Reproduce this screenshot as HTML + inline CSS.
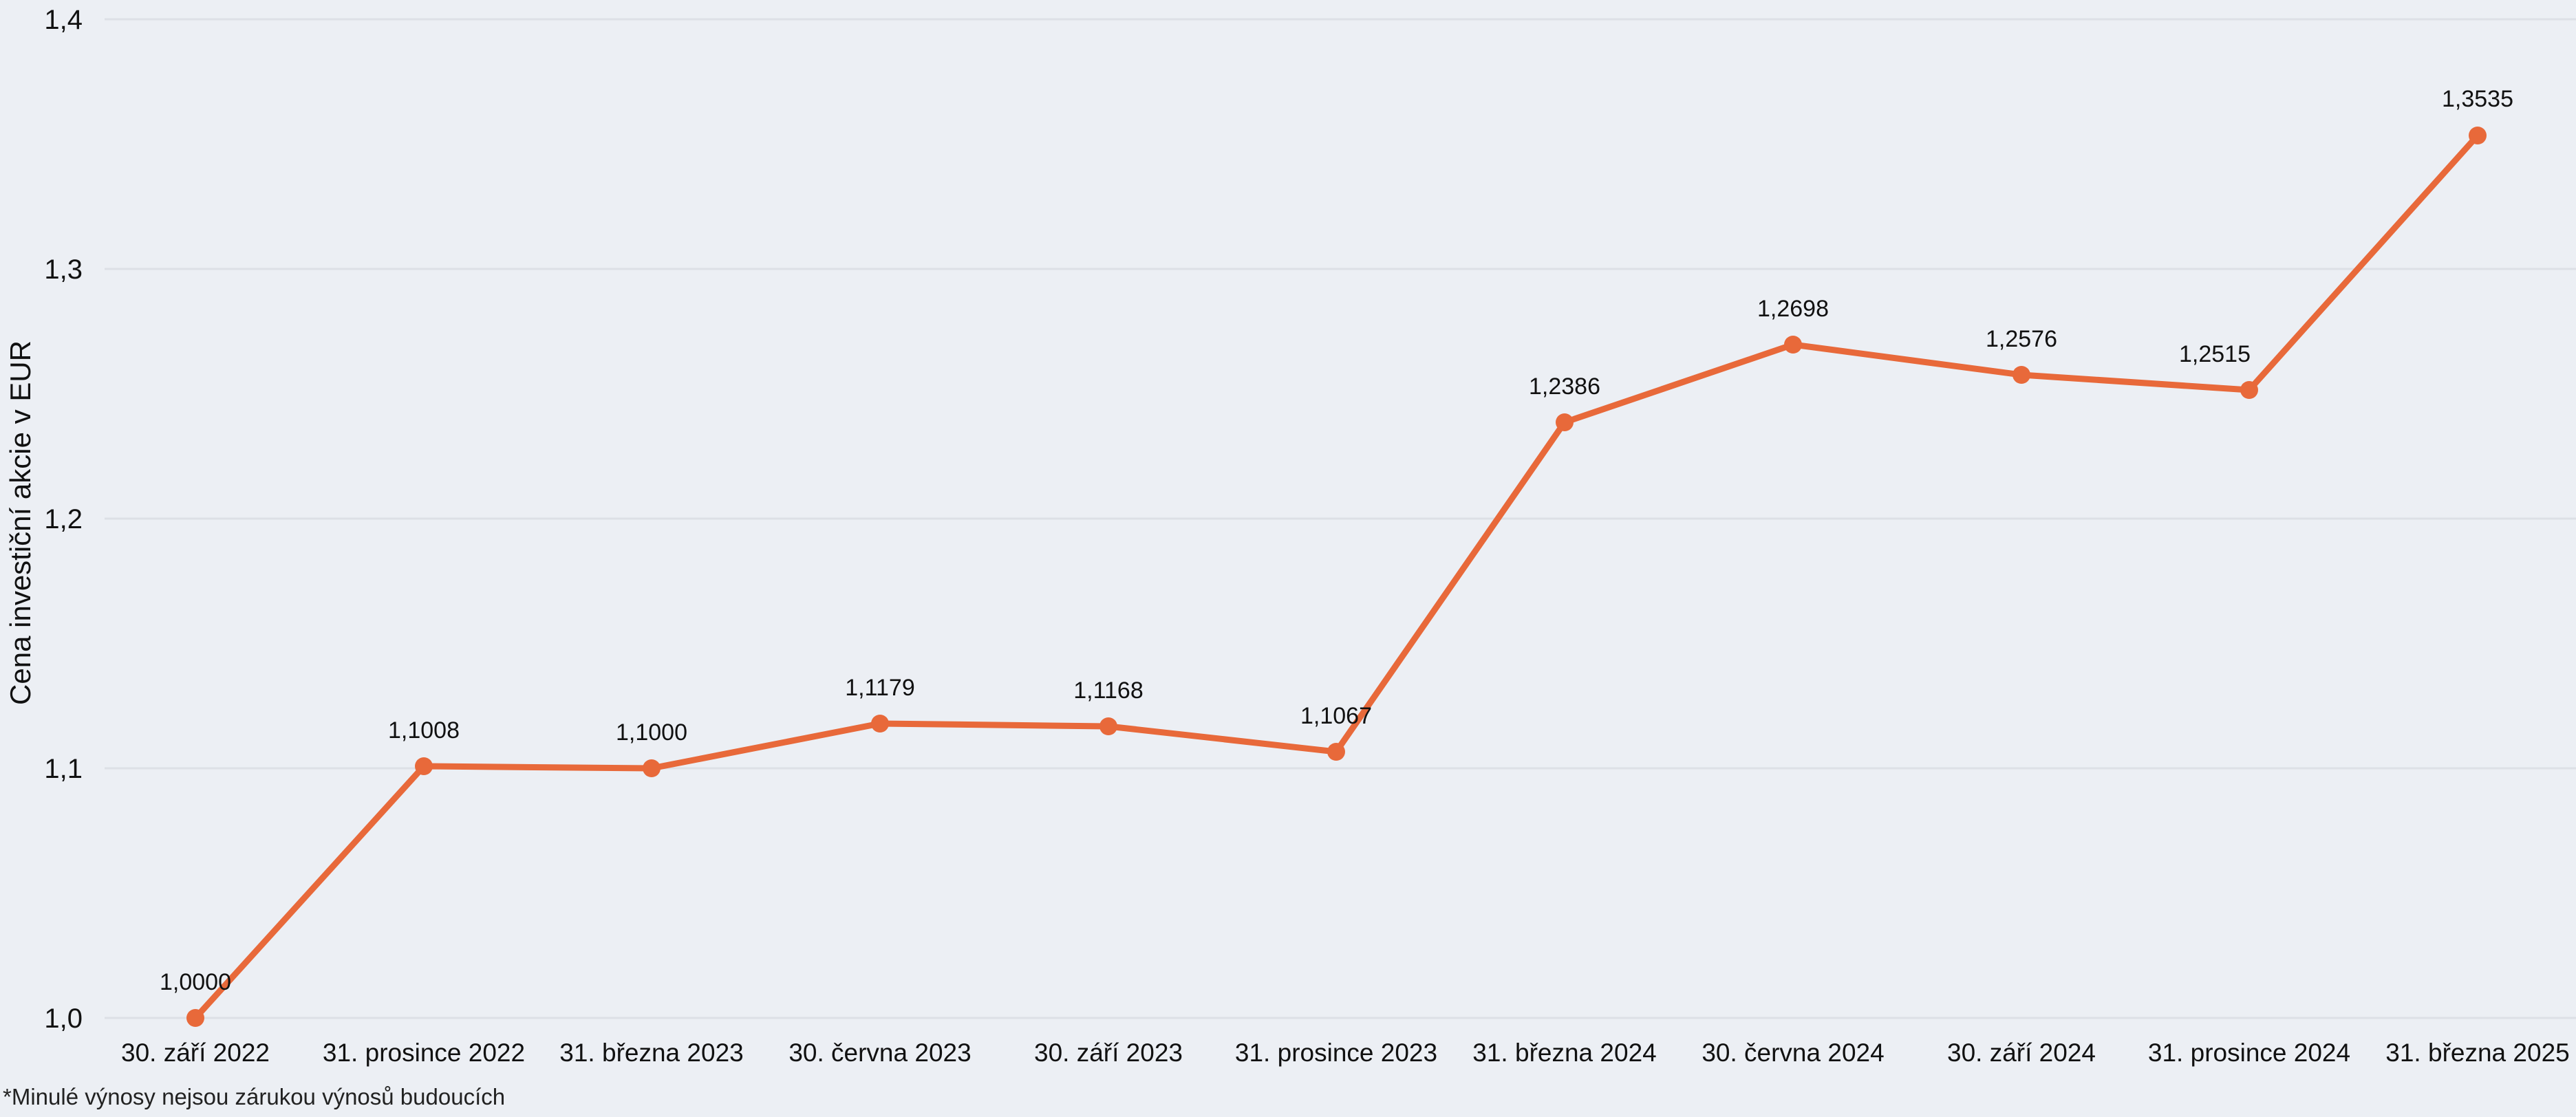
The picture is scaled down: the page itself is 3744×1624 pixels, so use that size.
<!DOCTYPE html>
<html><head><meta charset="utf-8"><style>
html,body{margin:0;padding:0;background:#ECEFF4;}
svg{display:block;font-family:"Liberation Sans",sans-serif;}
</style></head><body>
<svg width="3744" height="1624" viewBox="0 0 3744 1624" xmlns="http://www.w3.org/2000/svg">
<rect width="3744" height="1624" fill="#ECEFF4"/>
<g stroke="#DDE0E6" stroke-width="3">
<line x1="152" y1="28" x2="3744" y2="28"/>
<line x1="152" y1="391" x2="3744" y2="391"/>
<line x1="152" y1="754" x2="3744" y2="754"/>
<line x1="152" y1="1117" x2="3744" y2="1117"/>
<line x1="152" y1="1480" x2="3744" y2="1480"/>
</g>
<g font-size="40" fill="#111" text-anchor="end">
<text x="120" y="42">1,4</text>
<text x="120" y="405">1,3</text>
<text x="120" y="768">1,2</text>
<text x="120" y="1131">1,1</text>
<text x="120" y="1494">1,0</text>
</g>
<text transform="translate(44,760) rotate(-90)" font-size="42" fill="#111" text-anchor="middle">Cena investiční akcie v EUR</text>
<g font-size="37" fill="#111" text-anchor="middle">
<text x="284" y="1543">30. září 2022</text>
<text x="616" y="1543">31. prosince 2022</text>
<text x="947" y="1543">31. března 2023</text>
<text x="1279" y="1543">30. června 2023</text>
<text x="1611" y="1543">30. září 2023</text>
<text x="1942" y="1543">31. prosince 2023</text>
<text x="2274" y="1543">31. března 2024</text>
<text x="2606" y="1543">30. června 2024</text>
<text x="2938" y="1543">30. září 2024</text>
<text x="3269" y="1543">31. prosince 2024</text>
<text x="3601" y="1543">31. března 2025</text>
</g>
<text x="4" y="1606" font-size="33" fill="#222">*Minulé výnosy nejsou zárukou výnosů budoucích</text>
<polyline fill="none" stroke="#E8693A" stroke-width="9" stroke-linejoin="round"
points="284,1480 616,1114 947,1117 1279,1052 1611,1056 1942,1093 2274,614 2606,501 2938,545 3269,567 3601,197"/>
<g fill="#E8693A">
<circle cx="284" cy="1480" r="13"/><circle cx="616" cy="1114" r="13"/><circle cx="947" cy="1117" r="13"/>
<circle cx="1279" cy="1052" r="13"/><circle cx="1611" cy="1056" r="13"/><circle cx="1942" cy="1093" r="13"/>
<circle cx="2274" cy="614" r="13"/><circle cx="2606" cy="501" r="13"/><circle cx="2938" cy="545" r="13"/>
<circle cx="3269" cy="567" r="13"/><circle cx="3601" cy="197" r="13"/>
</g>
<g font-size="34" fill="#111" text-anchor="middle">
<text x="284" y="1439">1,0000</text>
<text x="616" y="1073">1,1008</text>
<text x="947" y="1076">1,1000</text>
<text x="1279" y="1011">1,1179</text>
<text x="1611" y="1015">1,1168</text>
<text x="1942" y="1052">1,1067</text>
<text x="2274" y="573">1,2386</text>
<text x="2606" y="460">1,2698</text>
<text x="2938" y="504">1,2576</text>
<text x="3219" y="526">1,2515</text>
<text x="3601" y="155">1,3535</text>
</g>
</svg>
</body></html>
